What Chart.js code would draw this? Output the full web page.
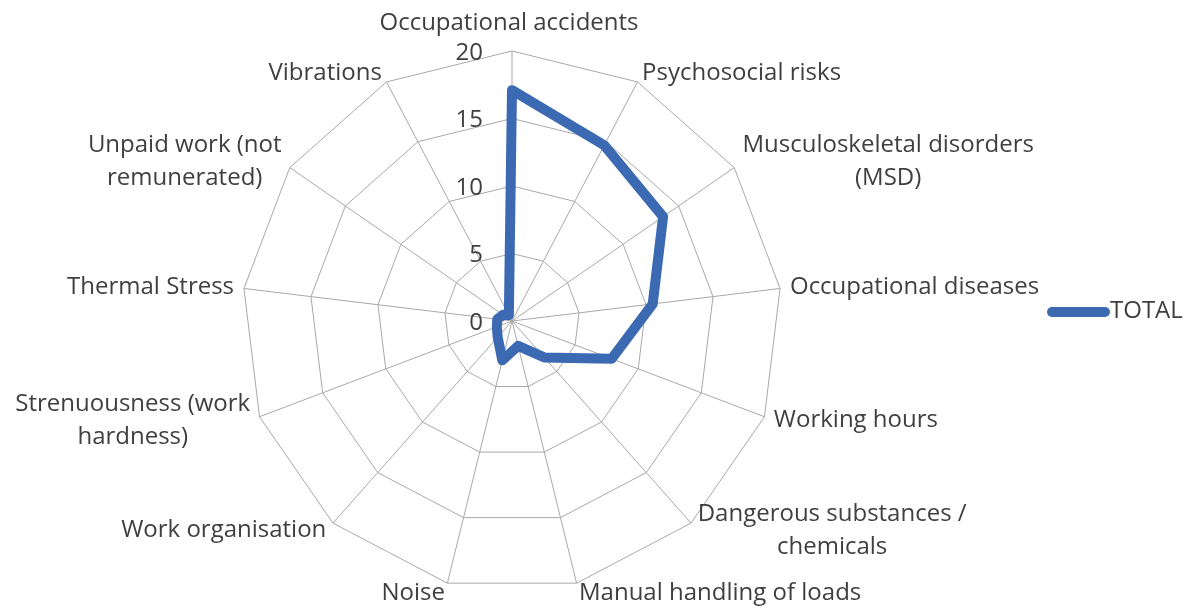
<!DOCTYPE html>
<html>
<head>
<meta charset="utf-8">
<script src="https://cdn.jsdelivr.net/npm/chart.js@4.4.1/dist/chart.umd.min.js"></script>
<style>
  html, body { margin: 0; padding: 0; background: #fff; }
</style>
</head>
<body>
<canvas id="radarChart" width="1193" height="609"></canvas>
<script>
// categories, clockwise from the top (multi-line ones as arrays)
const categories = [
  'Occupational accidents',
  'Psychosocial risks',
  ['Musculoskeletal disorders', '(MSD)'],
  'Occupational diseases',
  'Working hours',
  ['Dangerous substances /', 'chemicals'],
  'Manual handling of loads',
  'Noise',
  'Work organisation',
  ['Strenuousness (work', 'hardness)'],
  'Thermal Stress',
  ['Unpaid work (not', 'remunerated)'],
  'Vibrations'
];
const totalValues = [17.1, 14.7, 13.6, 10.5, 7.9, 3.6, 1.9, 3.0, 1.6, 1.2, 1.1, 0.8, 0.5];
const tickValues = [0, 5, 10, 15, 20];
const seriesName = 'TOTAL';

const lineColor = '#3b6ab2';
const gridColor = '#a8a8a8';
const textColor = '#3f3f3f';
const labelFont = '24px "Open Sans"';

// Excel-style labels: ticks left of the axis, category labels beside the vertices, legend at right
const excelLabels = {
  id: 'excelLabels',
  afterDraw(chart) {
    const ctx = chart.ctx;
    const scale = chart.scales.r;
    ctx.save();
    ctx.font = labelFont;
    ctx.fillStyle = textColor;

    ctx.textAlign = 'right';
    ctx.textBaseline = 'middle';
    tickValues.forEach(v => {
      const d = scale.getDistanceFromCenterForValue(v);
      ctx.fillText(String(v), scale.xCenter - 29, scale.yCenter - d + 2);
    });

    const lineH = 33;
    chart.data.labels.forEach((lab, i) => {
      const lines = Array.isArray(lab) ? lab : [lab];
      const a = scale.getIndexAngle(i);
      const s = Math.sin(a), c = Math.cos(a);
      const p = scale.getPointPosition(i, scale.drawingArea);
      const blockW = Math.max(...lines.map(t => ctx.measureText(t).width));
      let cx, midY;
      if (Math.abs(s) < 0.05) {
        cx = p.x - 3;
        midY = p.y - 28;
      } else {
        const x = p.x + s * 10;
        cx = s > 0 ? x + blockW / 2 : x - blockW / 2;
        midY = p.y - c * 10;
      }
      ctx.textAlign = 'center';
      lines.forEach((t, k) => {
        ctx.fillText(t, cx, midY + (k - (lines.length - 1) / 2) * lineH);
      });
    });

    // legend
    const ds = chart.data.datasets[0];
    ctx.strokeStyle = ds.borderColor;
    ctx.lineWidth = ds.borderWidth;
    ctx.lineCap = 'round';
    ctx.beginPath();
    ctx.moveTo(1052, 312);
    ctx.lineTo(1105, 312);
    ctx.stroke();
    ctx.textAlign = 'left';
    ctx.fillText(ds.label, 1110, 311);
    ctx.restore();
  }
};

new Chart(document.getElementById('radarChart'), {
  type: 'radar',
  data: {
    labels: categories,
    datasets: [{
      label: seriesName,
      data: totalValues,
      borderColor: lineColor,
      backgroundColor: lineColor,
      borderWidth: 10,
      borderJoinStyle: 'round',
      fill: false,
      pointRadius: 0,
      pointHoverRadius: 0,
      tension: 0
    }]
  },
  options: {
    responsive: false,
    animation: false,
    devicePixelRatio: 1,
    layout: {
      padding: { top: 51, bottom: 18, left: 242, right: 411 }
    },
    plugins: {
      legend: { display: false },
      tooltip: { enabled: false }
    },
    scales: {
      r: {
        min: 0,
        max: 20,
        ticks: { stepSize: 5, display: false },
        pointLabels: { display: false },
        grid: { color: gridColor, lineWidth: 1, circular: false },
        angleLines: { color: gridColor, lineWidth: 1 }
      }
    }
  },
  plugins: [excelLabels]
});
</script>
</body>
</html>
